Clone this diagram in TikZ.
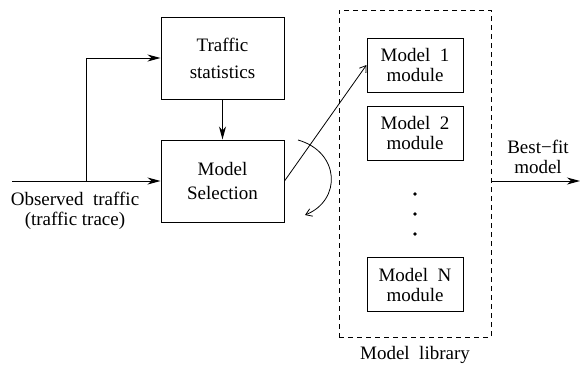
\documentclass[tikz,border=0pt]{standalone}
\usepackage{fontspec}
\setmainfont{Liberation Serif}
\usetikzlibrary{arrows.meta,positioning}

\begin{document}
\begin{tikzpicture}[x=1pt,y=-1pt,
  font=\fontsize{19}{20}\selectfont,
  box/.style={draw,line width=1pt,minimum width=123pt,minimum height=82pt,align=center,inner sep=0pt},
  modbox/.style={draw,line width=1pt,minimum width=96pt,minimum height=54pt,align=center,inner sep=0pt},
  txt/.style={align=center,inner sep=0pt},
  flow/.style={line width=1pt,-{Stealth[length=13pt,width=7pt,inset=4pt]}},
  thinflow/.style={line width=0.8pt,-{Straight Barb[length=6pt,width=8pt]}}]
\useasboundingbox (0,0) rectangle (581,365);
% Left blocks
\node[box] (stats) at (222.5,58) {Traffic\\[7pt]statistics};
\node[box] (sel) at (222.5,181) {Model\\[4pt]Selection};
\node[txt] (obs) at (75,211) {Observed~ traffic\\(traffic trace)};
% Model library
\node[draw,line width=0.8pt,dash pattern=on 5pt off 4pt,minimum width=152pt,minimum height=327pt] (lib) at (415,173.5) {};
\node[modbox] (m1) at (415,65) {Model~ 1\\module};
\node[modbox] (m2) at (415,133) {Model~ 2\\module};
\node[modbox] (mN) at (415,284.5) {Model~ N\\module};
\foreach \y in {194,214,234} {
    \fill (415,\y) circle (1.8pt);
}
\node[txt,below=9pt of lib] (libname) {Model~ library};
\node[txt] (best) at (538,157) {Best−fit\\model};
% Connectors
\coordinate (src) at (12,181);
\coordinate (split) at (86,181);
\coordinate (dst) at (580,181);
\coordinate (loopa) at (298,140);
\coordinate (loopb) at (305,215);
\draw[flow] (src) -- (sel.west);
\draw[flow] (split) |- (stats.west);
\draw[flow] (stats) -- (sel);
\draw[thinflow] (sel.east) -- (m1.west);
\draw[thinflow] (loopa) .. controls (340,152) and (342,200) .. (loopb);
\draw[flow] (lib.east |- dst) -- (dst);
\end{tikzpicture}
\end{document}
